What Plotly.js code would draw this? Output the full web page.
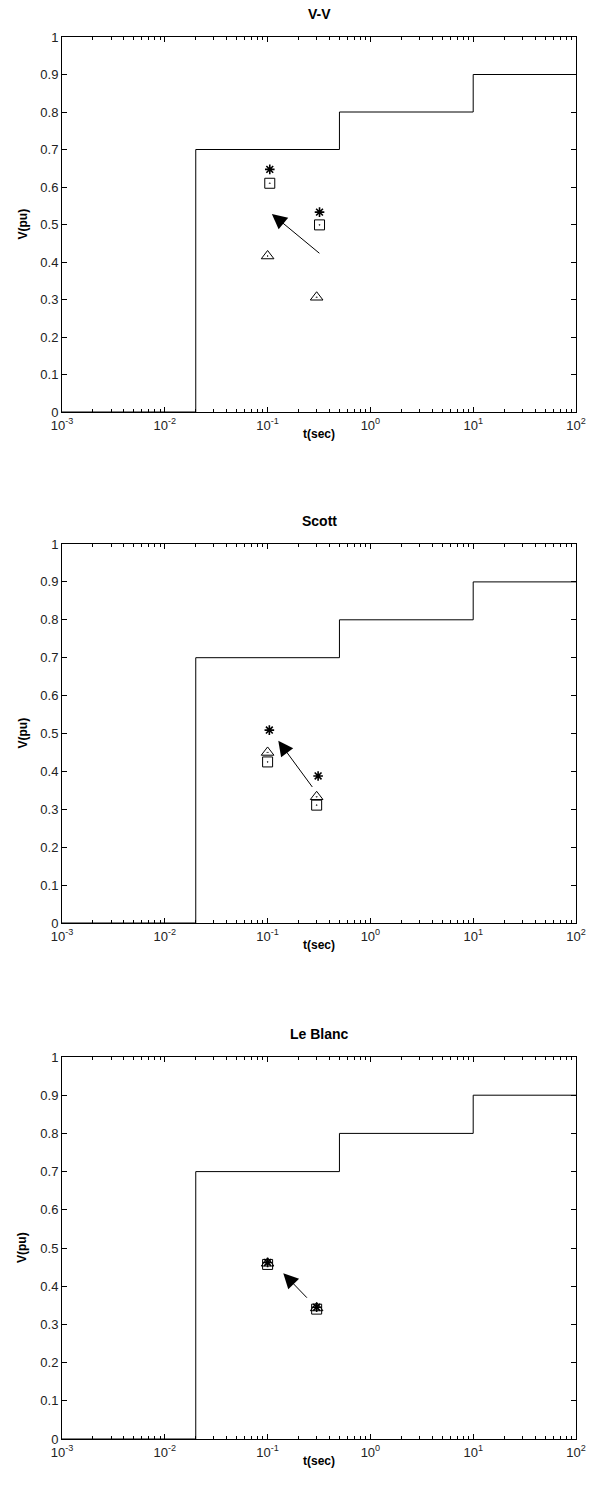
<!DOCTYPE html>
<html>
<head>
<meta charset="utf-8">
<script src="https://cdn.plot.ly/plotly-3.0.1.min.js"></script>
<style>html,body{margin:0;padding:0;background:#fff;}#chart{width:589px;height:1490px;}</style>
</head>
<body>
<div id="chart"></div>
<script>
// ---- data ----
const panelTitles = ["V-V", "Scott", "Le Blanc"];
const limitT = [0.001, 0.02, 0.5, 10, 100];
const limitV = [0, 0.7, 0.8, 0.9, 0.9];

const vvStarT = [0.105, 0.32];   const vvStarV = [0.647, 0.533];
const vvSquareT = [0.105, 0.32]; const vvSquareV = [0.61, 0.499];
const vvTriT = [0.1, 0.3];       const vvTriV = [0.416, 0.306];
const vvArrowTail = [0.33, 0.42]; const vvArrowHead = [0.11, 0.528];

const scStarT = [0.104, 0.31];   const scStarV = [0.509, 0.388];
const scSquareT = [0.1, 0.3];    const scSquareV = [0.425, 0.311];
const scTriT = [0.1, 0.3];       const scTriV = [0.45, 0.333];
const scArrowTail = [0.279, 0.355]; const scArrowHead = [0.127, 0.481];

const lbStarT = [0.1, 0.3];      const lbStarV = [0.462, 0.345];
const lbSquareT = [0.1, 0.3];    const lbSquareV = [0.457, 0.34];
const lbTriT = [0.1, 0.3];       const lbTriV = [0.46, 0.343];
const lbArrowTail = [0.249, 0.366]; const lbArrowHead = [0.142, 0.434];

const xTickVals = [0.001, 0.01, 0.1, 1, 10, 100];
const xTickText = ["10<sup>-3</sup>", "10<sup>-2</sup>", "10<sup>-1</sup>", "10<sup>0</sup>", "10<sup>1</sup>", "10<sup>2</sup>"];
const yTickVals = [0, 0.1, 0.2, 0.3, 0.4, 0.5, 0.6, 0.7, 0.8, 0.9, 1];

// ---- build ----
const W = 589, H = 1490;
const plotLeft = 62, plotRight = 576;
const panelsPx = [[37, 412], [544, 923], [1057, 1439]];
const FONT = "Liberation Sans, Arial, Helvetica, sans-serif";

const minorVals = [];
for (let e = -3; e < 2; e++) for (let m = 2; m <= 9; m++) minorVals.push(m * Math.pow(10, e));

const panels = [
  {star:[vvStarT, vvStarV], sq:[vvSquareT, vvSquareV], tri:[vvTriT, vvTriV], tail:vvArrowTail, head:vvArrowHead},
  {star:[scStarT, scStarV], sq:[scSquareT, scSquareV], tri:[scTriT, scTriV], tail:scArrowTail, head:scArrowHead},
  {star:[lbStarT, lbStarV], sq:[lbSquareT, lbSquareV], tri:[lbTriT, lbTriV], tail:lbArrowTail, head:lbArrowHead}
];

const data = [];
const layout = {
  width: W, height: H,
  margin: {l: 0, r: 0, t: 0, b: 0},
  paper_bgcolor: "#fff", plot_bgcolor: "#fff",
  showlegend: false,
  font: {family: FONT, size: 13, color: "#000"},
  annotations: []
};

panels.forEach((p, i) => {
  const n = i === 0 ? "" : String(i + 1);
  const xa = "x" + n, ya = "y" + n;
  const top = panelsPx[i][0], bot = panelsPx[i][1];
  layout["xaxis" + n] = {
    type: "log", range: [-3, 2], domain: [plotLeft / W, plotRight / W], anchor: ya,
    showline: true, linecolor: "#000", linewidth: 1, mirror: "ticks",
    ticks: "inside", ticklen: 5, tickcolor: "#000", tickwidth: 1,
    tickmode: "array", tickvals: xTickVals, ticktext: xTickText,
    ticklabelstandoff: 1,
    minor: {tickmode: "array", tickvals: minorVals, ticks: "inside", ticklen: 3, tickcolor: "#000"},
    showgrid: false, zeroline: false, fixedrange: true,
    tickfont: {family: FONT, size: 13, color: "#222"}
  };
  layout["yaxis" + n] = {
    range: [0, 1], domain: [1 - bot / H, 1 - top / H], anchor: xa,
    showline: true, linecolor: "#000", linewidth: 1, mirror: "ticks",
    ticks: "inside", ticklen: 5, tickcolor: "#000", tickwidth: 1,
    tickmode: "array", tickvals: yTickVals,
    showgrid: false, zeroline: false, fixedrange: true,
    tickfont: {family: FONT, size: 13, color: "#222"}
  };
  // limit curve
  data.push({x: limitT, y: limitV, xaxis: xa, yaxis: ya, mode: "lines",
    line: {shape: "hv", color: "#000", width: 1}, hoverinfo: "skip"});
  data.push({x: p.star[0], y: p.star[1], xaxis: xa, yaxis: ya, mode: "markers",
    marker: {symbol: "asterisk-open", size: 8, color: "#000", line: {color: "#000", width: 1.6}}});
  data.push({x: p.sq[0], y: p.sq[1], xaxis: xa, yaxis: ya, mode: "markers",
    marker: {symbol: "square-open-dot", size: 10, color: "#000", line: {color: "#000", width: 1}}});
  data.push({x: p.tri[0], y: p.tri[1], xaxis: xa, yaxis: ya, mode: "markers",
    marker: {symbol: "triangle-up-open-dot", size: 11, color: "#000", line: {color: "#000", width: 1}}});
  // arrow
  layout.annotations.push({
    xref: xa, yref: ya, axref: xa, ayref: ya,
    x: Math.log10(p.head[0]), y: p.head[1],
    ax: Math.log10(p.tail[0]), ay: p.tail[1],
    text: "", showarrow: true, arrowhead: 2, arrowsize: 3, arrowwidth: 1, arrowcolor: "#000"
  });
  // title
  const cx = (plotLeft + plotRight) / 2 / W;
  layout.annotations.push({xref: "paper", yref: "paper", x: cx, y: 1 - (top - 23) / H,
    text: "<b>" + panelTitles[i] + "</b>", showarrow: false, xanchor: "center", yanchor: "middle",
    font: {family: FONT, size: 14, color: "#000"}});
  layout.annotations.push({xref: "paper", yref: "paper", x: cx, y: 1 - (bot + 22) / H,
    text: "<b>t(sec)</b>", showarrow: false, xanchor: "center", yanchor: "middle",
    font: {family: FONT, size: 12, color: "#000"}});
  layout.annotations.push({xref: "paper", yref: "paper", x: 22 / W, y: 1 - (top + bot) / 2 / H,
    text: "<b>V(pu)</b>", showarrow: false, xanchor: "center", yanchor: "middle", textangle: -90,
    font: {family: FONT, size: 12, color: "#000"}});
});

Plotly.newPlot("chart", data, layout, {staticPlot: true, displayModeBar: false});
</script>
</body>
</html>
